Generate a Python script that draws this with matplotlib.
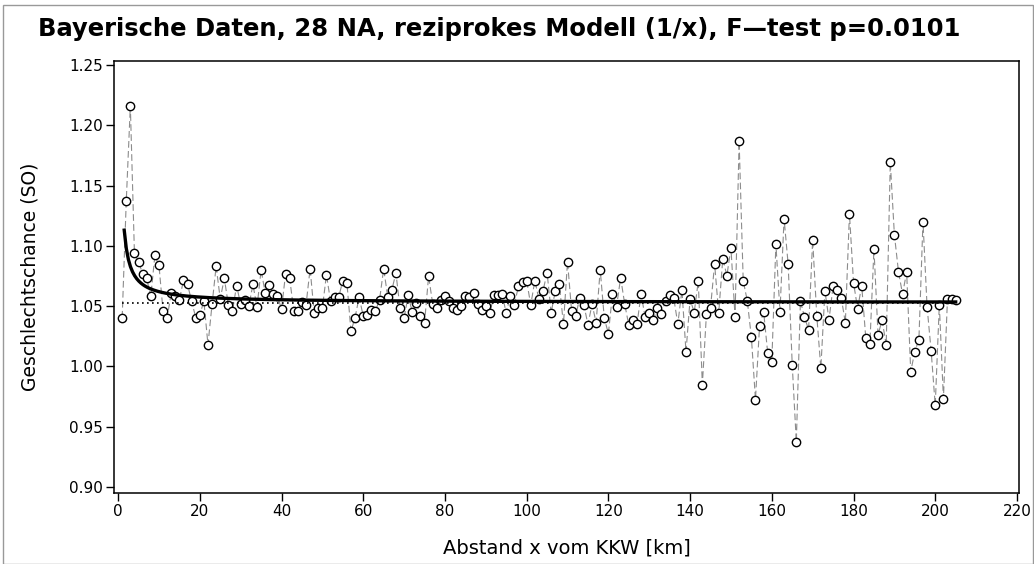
import numpy as np
import matplotlib
matplotlib.use("Agg")
import matplotlib.pyplot as plt
from matplotlib.patches import Rectangle

plt.rcParams['font.family'] = ['DejaVu Sans']

# distance from the plant in km, odds per km
abstand = np.arange(1, 206)
so = [
    1.0405, 1.137, 1.216, 1.094, 1.087, 1.077, 1.073, 1.058, 1.092, 1.084,
    1.046, 1.040, 1.061, 1.0585, 1.055, 1.0715, 1.068, 1.054, 1.0405, 1.043,
    1.054, 1.018, 1.0515, 1.083, 1.056, 1.073, 1.051, 1.046, 1.067, 1.0515,
    1.055, 1.050, 1.068, 1.049, 1.080, 1.061, 1.0675, 1.060, 1.0585, 1.0475,
    1.077, 1.073, 1.046, 1.046, 1.0535, 1.051, 1.081, 1.044, 1.0485, 1.0485,
    1.076, 1.054, 1.0576, 1.0576, 1.071, 1.0695, 1.029, 1.0405, 1.0576, 1.0416,
    1.043, 1.047, 1.046, 1.0554, 1.081, 1.0576, 1.0634, 1.0775, 1.0485, 1.040,
    1.059, 1.045, 1.0527, 1.042, 1.036, 1.0748, 1.052, 1.0485, 1.0554, 1.0585,
    1.0546, 1.0485, 1.047, 1.050, 1.0585, 1.0573, 1.061, 1.0516, 1.0468, 1.0502,
    1.0446, 1.0593, 1.0593, 1.0599, 1.0441, 1.0587, 1.051, 1.067, 1.0698, 1.0709,
    1.051, 1.0711, 1.0557, 1.0626, 1.0778, 1.0446, 1.0626, 1.0682, 1.0349, 1.0869,
    1.046, 1.0419, 1.057, 1.051, 1.0347, 1.0516, 1.0363, 1.0803, 1.040, 1.0272,
    1.0599, 1.0496, 1.0736, 1.0516, 1.0342, 1.0386, 1.0349, 1.0599, 1.041, 1.0446,
    1.0383, 1.0488, 1.0433, 1.0546, 1.0593, 1.0565, 1.0352, 1.0634, 1.012, 1.056,
    1.0446, 1.0706, 0.9849, 1.0435, 1.0488, 1.085, 1.0441, 1.0894, 1.0753, 1.098,
    1.0413, 1.1867, 1.0711, 1.0543, 1.0242, 0.9725, 1.0336, 1.0452, 1.0109, 1.004,
    1.1013, 1.0455, 1.1226, 1.0847, 1.0012, 0.9374, 1.0543, 1.0408, 1.0305, 1.1049,
    1.0422, 0.9985, 1.0626, 1.0388, 1.0665, 1.0634, 1.0568, 1.0363, 1.1267, 1.0695,
    1.0479, 1.067, 1.0236, 1.0184, 1.0974, 1.0264, 1.0383, 1.0176, 1.1693, 1.1093,
    1.0786, 1.0599, 1.0784, 0.9957, 1.0123, 1.0222, 1.1201, 1.0496, 1.0126, 0.9678,
    1.0513, 0.9733, 1.0562, 1.0556, 1.055,
]

# reciprocal model so = a + b/x and the constant mean
fit_a, fit_b = 1.053, 0.09
mittel = 1.0525

xt = np.arange(0, 221, 20)
yt = np.arange(0.90, 1.2501, 0.05)

fig = plt.figure(figsize=(10.34, 5.64), dpi=100)
ax = fig.add_axes([114/1034, 1-493/564, (1019-114)/1034, (493-61)/564])

ax.plot(abstand, so, color='#8c8c8c', lw=0.8, ls=(0, (6, 3)), zorder=2)
ax.plot(abstand, so, 'o', ms=6.0, mfc='white', mec='black', mew=1.0, zorder=3)

xf = np.linspace(1.5, abstand[-1], 400)
ax.plot(xf, fit_a + fit_b / xf, color='black', lw=2.4, zorder=4)
ax.plot([abstand[0], abstand[-1]], [mittel, mittel], color='black', lw=1.2, ls=(0, (1, 2)), zorder=4)

ax.set_xlim(-1, 220.5)
ax.set_ylim(0.895, 1.2533)
ax.set_xticks(xt)
ax.set_yticks(yt)
ax.set_yticklabels(['%.2f' % v for v in yt])
ax.tick_params(direction='out', length=6, width=1, labelsize=11, pad=2)
for s in ax.spines.values():
    s.set_linewidth(1.1)

ax.set_xlabel('Abstand x vom KKW [km]', fontsize=14)
ax.set_ylabel('Geschlechtschance (SO)', fontsize=13.5)
ax.xaxis.set_label_coords(0.5, -0.105)
ax.yaxis.set_label_coords(-0.082, 0.5)

fig.text(38/1034, 1-29/564, 'Bayerische Daten, 28 NA, reziprokes Modell (1/x), F\u2014test p=0.0101',
         fontsize=17.5, fontweight='bold', ha='left', va='center')

fig.patches.append(Rectangle((3/1034, 0), 1-4/1034, 1-5/564, transform=fig.transFigure,
                             fill=False, edgecolor='#999999', lw=1))

fig.savefig('out.png', dpi=100)
